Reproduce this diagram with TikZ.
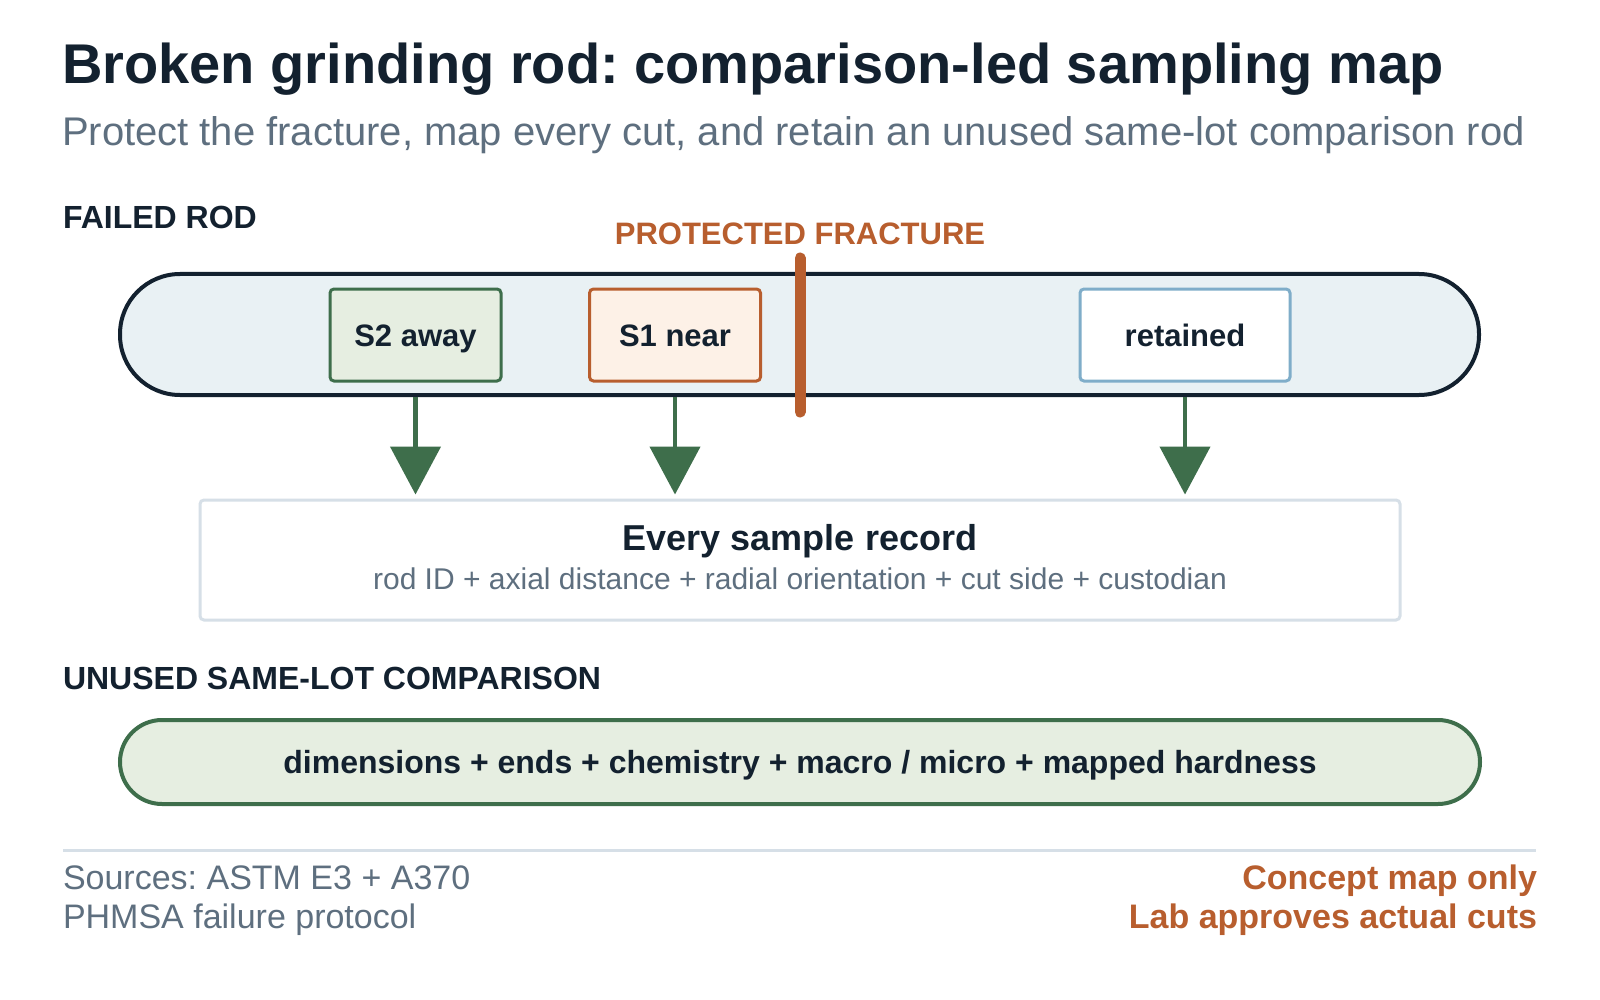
\documentclass[tikz,border=0pt]{standalone}
\usepackage{fontspec}
\setmainfont{Liberation Sans}
\usetikzlibrary{arrows.meta}
\definecolor{ink}{HTML}{13212F}
\definecolor{subgray}{HTML}{5E6F7F}
\definecolor{rust}{HTML}{B85E2E}
\definecolor{leaf}{HTML}{3E6E4B}
\definecolor{leaffill}{HTML}{E6EEE1}
\definecolor{peach}{HTML}{FDF1E7}
\definecolor{rodfill}{HTML}{E9F1F4}
\definecolor{skyline}{HTML}{7FADC9}
\definecolor{rulegray}{HTML}{D6DFE7}
\newcommand\fsz[1]{\fontsize{#1}{#1}\selectfont}
\frenchspacing
\begin{document}
\begin{tikzpicture}[x=1pt,y=-1pt,
  txt/.style={inner sep=0pt, outer sep=0pt},
  heading/.style={txt, anchor=base west, text=ink, font=\fsz{32}\bfseries},
  samplebox/.style={draw, line width=3pt, rounded corners=4pt, minimum width=171pt,
    minimum height=92pt, inner sep=0pt, text=ink, font=\fsz{31}\bfseries,
    text height=22pt, text depth=0pt},
  flow/.style={draw=leaf, line width=4.5pt, -{Triangle[width=50pt,length=48pt]}, shorten >=4pt}
]
\fill[white] (0,0) rectangle (1600,1000);
\useasboundingbox (0,0) rectangle (1600,1000);

\node[txt, anchor=base west, text=ink, font=\fsz{56}\bfseries] (title) at (62,84)
  {Broken grinding rod: comparison-led sampling map};
\node[txt, anchor=base west, text=subgray, font=\fsz{40}] (subtitle) at (62,146)
  {Protect the fracture, map every cut, and retain an unused same-lot comparison rod};

\node[heading] (failed) at (63,229) {FAILED ROD};
\node[txt, anchor=base, text=rust, font=\fsz{31}\bfseries] (prot) at (800,245) {PROTECTED FRACTURE};

% rod
\node[draw=ink, line width=4pt, fill=rodfill, rounded corners=60pt,
  minimum width=1359pt, minimum height=121pt, inner sep=0pt] (rod) at (799.5,334.5) {};

\node[samplebox, draw=leaf, fill=leaffill] (s2) at (415.5,335) {S2 away};
\node[samplebox, draw=rust, fill=peach] (s1) at (675,335) {S1 near};
\node[samplebox, draw=skyline, fill=white, minimum width=210pt] (ret) at (1185,335) {retained};

% fracture
\coordinate (fa) at (800,258);
\coordinate (fb) at (800,412);
\draw[rust, line width=11pt, line cap=round] (fa) -- (fb);

% record box
\node[draw=rulegray, line width=3pt, rounded corners=4pt, fill=white,
  minimum width=1200pt, minimum height=120pt, inner sep=0pt] (record) at (800,560) {};
\node[txt, anchor=base, text=ink, font=\fsz{36}\bfseries] (rectitle) at (800,550) {Every sample record};
\node[txt, anchor=base, text=subgray, font=\fsz{30}] (recsub) at (800,589)
  {rod ID + axial distance + radial orientation + cut side + custodian};

% arrows
\draw[flow] (s2 |- rod.south) -- (s2 |- record.north);
\draw[flow] (s1 |- rod.south) -- (s1 |- record.north);
\draw[flow] (ret |- rod.south) -- (ret |- record.north);

% comparison
\node[heading] (unused) at (63,689) {UNUSED SAME-LOT COMPARISON};
\node[draw=leaf, line width=4pt, fill=leaffill, rounded corners=42pt,
  minimum width=1360pt, minimum height=84pt, inner sep=0pt] (bar) at (800,762) {};
\node[txt, anchor=base, text=ink, font=\fsz{32}\bfseries] (bartext) at (800,773)
  {dimensions + ends + chemistry + macro / micro + mapped hardness};

% footer
\coordinate (fl) at (63,850);
\coordinate (fr) at (1536,850);
\draw[rulegray, line width=3pt] (fl) -- (fr);
\node[txt, anchor=base west, text=subgray, font=\fsz{34}] (src1) at (63,889) {Sources: ASTM E3 + A370};
\node[txt, anchor=base west, text=subgray, font=\fsz{34}] (src2) at (63,928) {PHMSA failure protocol};
\node[txt, anchor=base east, text=rust, font=\fsz{34}\bfseries] (note1) at (1537,889) {Concept map only};
\node[txt, anchor=base east, text=rust, font=\fsz{34}\bfseries] (note2) at (1537,928) {Lab approves actual cuts};
\end{tikzpicture}
\end{document}
